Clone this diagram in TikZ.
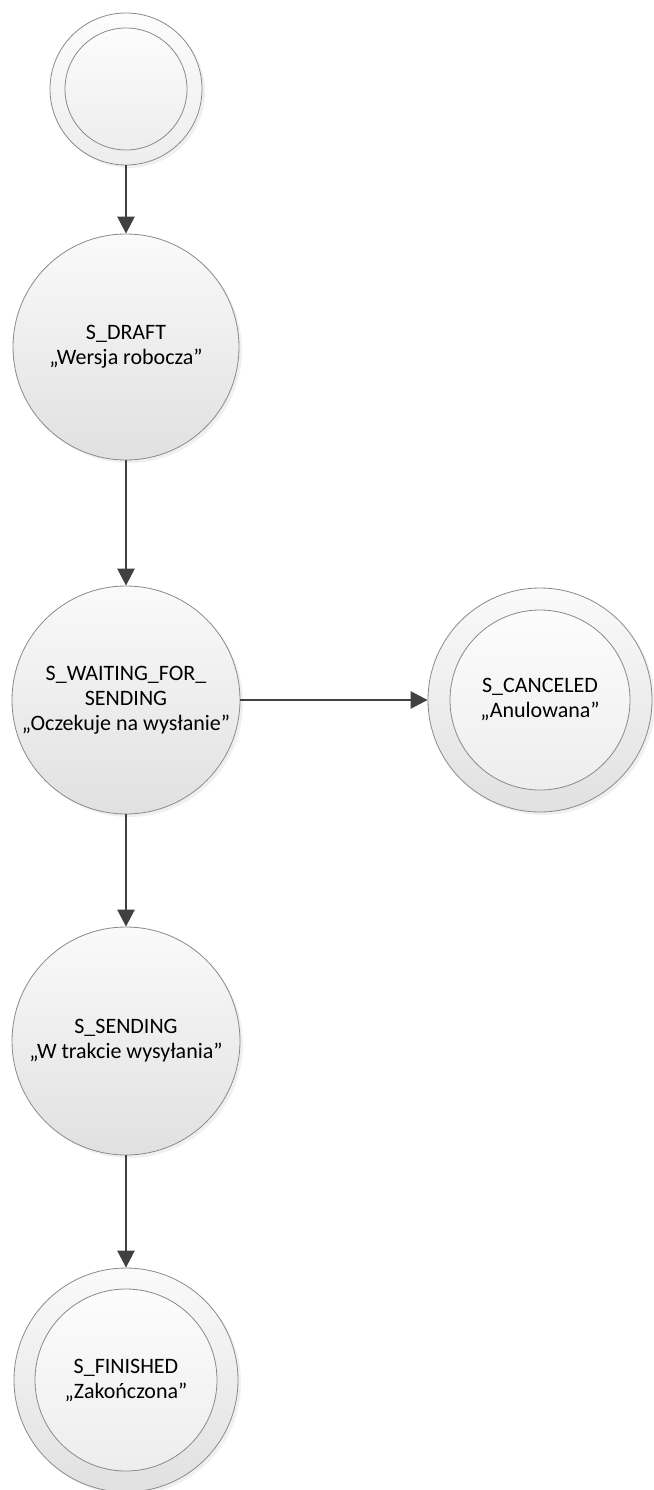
\documentclass[tikz,border=0pt]{standalone}
\usepackage{fontspec}
\setmainfont{Carlito}
\usetikzlibrary{arrows.meta,shadows}

\definecolor{rim}{HTML}{8A8A8A}
\definecolor{wire}{HTML}{404040}

\tikzset{
  state/.style={circle, draw=rim, line width=0.8pt, minimum size=#1, inner sep=0pt,
    top color=white!98!black, bottom color=white!88!black, align=center,
    font=\fontsize{22}{25}\selectfont,
    drop shadow={opacity=0.12, shadow xshift=3pt, shadow yshift=-3pt}},
  ring/.style={circle, draw=rim, line width=0.8pt, minimum size=#1, inner sep=0pt,
    top color=white!99!black, bottom color=white!93!black, align=center,
    font=\fontsize{22}{25}\selectfont},
  trans/.style={draw=wire, line width=2.6pt, -{Triangle[length=17pt,width=17pt]}}
}

\begin{document}
\begin{tikzpicture}[x=1pt,y=-1pt]

\useasboundingbox (0,0) rectangle (653,1490);

% ===== Stany =====
\node[ring=152pt, drop shadow={opacity=0.12, shadow xshift=3pt, shadow yshift=-3pt}] (start) at (126,89) {};
\node[ring=122pt] (start in) at (126,89) {};

\node[state=226pt] (draft) at (126,347) {S\_DRAFT\\„Wersja robocza”};

\node[state=228pt] (wait) at (126,700) {S\_WAITING\_FOR\_\\SENDING\\„Oczekuje na wysłanie”};

\node[state=224pt] (cancel) at (540,700) {};
\node[ring=180pt] (cancel in) at (540,700) {S\_CANCELED\\„Anulowana”};

\node[state=228pt] (send) at (126,1041) {S\_SENDING\\„W trakcie wysyłania”};

\node[state=224pt] (fin) at (126,1380) {};
\node[ring=182pt] (fin in) at (126,1380) {S\_FINISHED\\„Zakończona”};

% ===== Przejścia =====
\draw[trans] (start) -- (draft);
\draw[trans] (draft) -- (wait);
\draw[trans] (wait) -- (cancel);
\draw[trans] (wait) -- (send);
\draw[trans] (send) -- (fin);

\end{tikzpicture}
\end{document}
